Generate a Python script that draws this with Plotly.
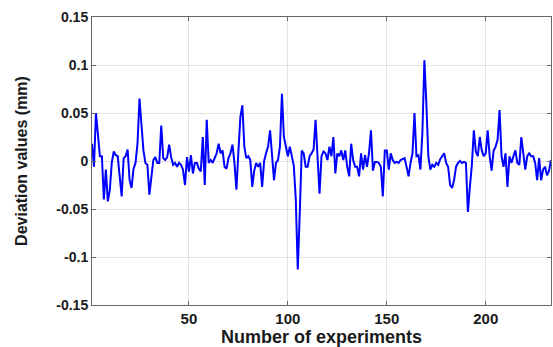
import plotly.graph_objects as go

experiments = list(range(1, 234))
deviation = [
    0.018, -0.006, 0.050, 0.025, 0.005, 0.005, -0.040, -0.009, -0.042, -0.030,
    -0.002, 0.010, 0.006, 0.005, -0.015, -0.037, 0.003, 0.005, 0.012, -0.020,
    -0.028, -0.008, -0.002, 0.018, 0.065, 0.032, 0.011, -0.002, -0.004, -0.035,
    -0.013, 0.001, 0.004, -0.002, -0.002, 0.037, 0.003, 0.001, 0.004, 0.017,
    0.004, -0.004, -0.002, -0.006, -0.002, -0.004, -0.009, -0.025, 0.004, -0.011,
    0.006, -0.013, -0.002, -0.002, -0.008, -0.011, 0.025, -0.025, 0.043, -0.002,
    0.001, -0.002, 0.003, 0.008, 0.018, 0.008, 0.011, -0.006, -0.008, 0.003,
    0.008, 0.017, -0.002, -0.030, 0.010, 0.046, 0.058, 0.015, 0.003, 0.005,
    0.001, -0.027, -0.010, -0.002, -0.006, -0.002, -0.027, 0.000, 0.008, 0.015,
    0.032, 0.008, -0.020, -0.002, 0.001, 0.015, 0.070, 0.025, 0.015, 0.005,
    0.015, 0.005, -0.005, -0.040, -0.113, -0.055, 0.011, 0.008, -0.006, -0.006,
    0.005, 0.008, 0.012, 0.043, 0.010, -0.034, 0.005, 0.010, 0.008, 0.001,
    0.015, 0.005, 0.025, -0.013, 0.008, 0.005, 0.011, 0.001, 0.011, -0.006,
    -0.016, 0.018, 0.001, -0.006, -0.006, -0.016, 0.008, -0.009, 0.006, -0.006,
    0.008, 0.032, -0.010, -0.001, -0.001, -0.002, -0.006, -0.037, 0.011, 0.011,
    -0.009, 0.008, 0.001, -0.002, -0.001, -0.002, 0.001, 0.002, 0.003, -0.006,
    -0.016, -0.002, 0.008, 0.050, 0.005, 0.006, -0.009, 0.030, 0.105, 0.060,
    0.005, -0.009, -0.004, -0.006, -0.002, -0.004, 0.002, 0.005, 0.008, -0.002,
    -0.006, -0.025, -0.028, -0.020, -0.006, -0.002, 0.000, -0.002, -0.001, -0.002,
    -0.053, -0.027, -0.004, 0.032, 0.010, 0.005, 0.025, 0.011, 0.005, 0.008,
    0.032, 0.005, -0.010, 0.011, 0.015, 0.022, 0.053, 0.005, -0.006, 0.008,
    -0.027, 0.005, -0.002, 0.005, 0.011, -0.002, -0.004, 0.025, 0.005, -0.009,
    0.005, 0.008, 0.005, 0.005, -0.002, -0.020, 0.003, -0.020, -0.009, -0.006,
    -0.015, -0.010, 0.001,
]

x_ticks = [50, 100, 150, 200]
y_ticks = [-0.15, -0.1, -0.05, 0, 0.05, 0.1, 0.15]
y_tick_labels = ["-0.15", "-0.1", "-0.05", "0", "0.05", "0.1", "0.15"]

FAM = "Liberation Sans, Arial, sans-serif"
TXT = "#1a1a1a"

fig = go.Figure()
fig.add_trace(go.Scatter(
    x=experiments, y=deviation, mode="lines",
    line=dict(color="#0000ff", width=2),
    showlegend=False,
))

fig.update_layout(
    width=553, height=347,
    margin=dict(l=92, r=2, t=17, b=42),
    paper_bgcolor="white", plot_bgcolor="white",
    font=dict(family=FAM, size=14, color=TXT, weight="bold"),
    xaxis=dict(
        range=[1, 233], tickvals=x_ticks, ticks="inside", ticklen=4,
        tickcolor="#666666", showline=True, mirror="ticks", linecolor="#666666",
        linewidth=1, showgrid=True, gridcolor="#e3e3e3", gridwidth=1, zeroline=False,
        tickfont=dict(family=FAM, size=15, color=TXT, weight="bold"),
        title=dict(text="Number of experiments", standoff=5,
                   font=dict(family=FAM, size=18, color=TXT, weight="bold")),
    ),
    yaxis=dict(
        range=[-0.15, 0.15], tickvals=y_ticks, ticktext=y_tick_labels, ticks="inside", ticklen=4,
        tickcolor="#666666", showline=True, mirror="ticks", linecolor="#666666",
        linewidth=1, showgrid=True, gridcolor="#e3e3e3", gridwidth=1, zeroline=False,
        tickfont=dict(family=FAM, size=14, color=TXT, weight="bold"),
        title=dict(text="Deviation values (mm)", standoff=24,
                   font=dict(family=FAM, size=16, color=TXT, weight="bold")),
    ),
)

fig.write_html("out.html")
